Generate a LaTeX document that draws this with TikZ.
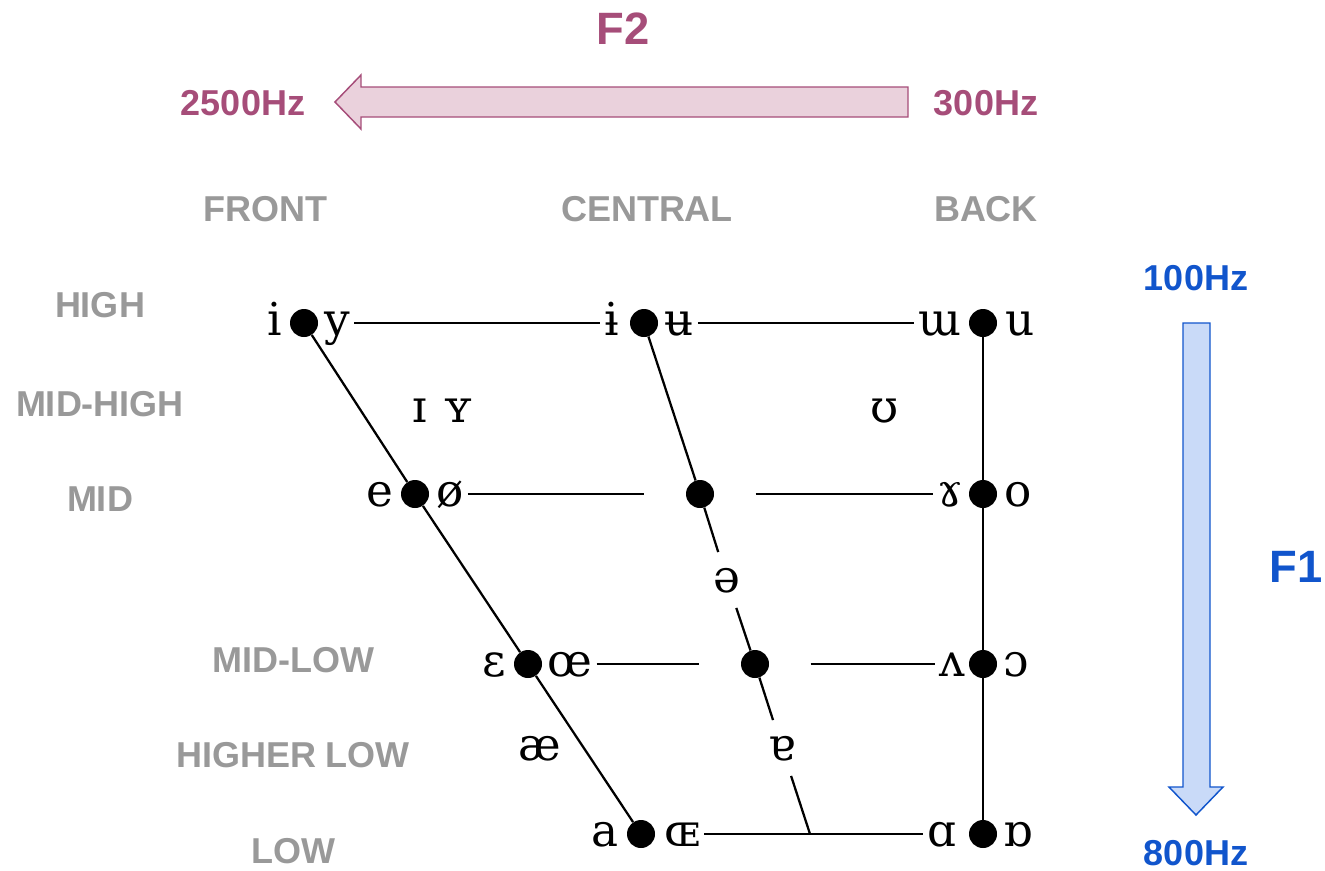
\documentclass[tikz,border=0pt]{standalone}
\usepackage{fontspec}
\setmainfont{Liberation Sans}
\newfontfamily\ipafont{DejaVu Serif}
\definecolor{labgray}{HTML}{999999}
\definecolor{ftwo}{HTML}{A64D79}
\definecolor{ftwofill}{HTML}{EAD1DC}
\definecolor{fone}{HTML}{1155CC}
\definecolor{fonefill}{HTML}{C9DAF8}
\tikzset{
  cat/.style={text=labgray, font=\fontsize{27}{30}\selectfont\bfseries},
  hz/.style={font=\fontsize{27}{30}\selectfont\bfseries},
  ipa/.style={font=\ipafont\fontsize{34}{36}\selectfont, text height=27pt, text depth=8.5pt, inner sep=3pt},
  vdot/.style={circle, fill=black, minimum size=21pt, inner sep=0pt},
  gapc/.style={circle, minimum size=83pt, inner sep=0pt},
  edge/.style={line width=1.7pt},
}
\begin{document}
\begin{tikzpicture}[x=0.75pt,y=-0.75pt]
\useasboundingbox (0,0) rectangle (1325,871);

% F2 axis
\node[hz, text=ftwo, font=\fontsize{34}{36}\selectfont\bfseries] (f2) at (623,29) {F2};
\node[hz, text=ftwo] (f2lo) at (243,103) {2500Hz};
\node[hz, text=ftwo] (f2hi) at (986,103) {300Hz};
\draw[ftwo, fill=ftwofill, line width=1.1pt]
  (908,87) -- (361,87) -- (361,75) -- (335,102) -- (361,129) -- (361,117) -- (908,117) -- cycle;

% F1 axis
\node[hz, text=fone] (f1lo) at (1196,278) {100Hz};
\node[hz, text=fone] (f1hi) at (1196,853) {800Hz};
\node[hz, text=fone, font=\fontsize{34}{36}\selectfont\bfseries] (f1) at (1296,567) {F1};
\draw[fone, fill=fonefill, line width=1.1pt]
  (1183,323) -- (1210,323) -- (1210,787) -- (1223,787) -- (1196,815) -- (1169,787) -- (1183,787) -- cycle;

% backness labels
\node[cat] (front) at (265,209) {FRONT};
\node[cat] (central) at (647,209) {CENTRAL};
\node[cat] (back) at (986,209) {BACK};

% height labels
\node[cat] (high) at (100,305) {HIGH};
\node[cat] (midhigh) at (100,404) {MID-HIGH};
\node[cat] (mid) at (100,499) {MID};
\node[cat] (midlow) at (293,660) {MID-LOW};
\node[cat] (higherlow) at (293,755) {HIGHER LOW};
\node[cat] (low) at (293,851) {LOW};

% vowel points
\node[vdot] (dHF) at (304,323) {};
\node[vdot] (dHC) at (644,323) {};
\node[vdot] (dHB) at (983,323) {};
\node[vdot] (dMF) at (415,494) {};
\node[vdot] (dMC) at (700,494) {};
\node[vdot] (dMB) at (983,494) {};
\node[vdot] (dLF) at (528,664) {};
\node[vdot] (dLC) at (755,664) {};
\node[vdot] (dLB) at (983,664) {};
\node[vdot] (dBF) at (641,834) {};
\node[vdot] (dBB) at (983,834) {};
\node[gapc] (gMC) at (700,494) {};
\node[gapc] (gLC) at (755,664) {};
\coordinate (cBC) at (810,834);

% vowel symbols
\node[ipa] (vi) at (275,323) {i};
\node[ipa] (vy) at (337,323) {y};
\node[ipa] (vibar) at (612,323) {ɨ};
\node[ipa] (vubar) at (679,323) {ʉ};
\node[ipa] (vturnm) at (940,323) {ɯ};
\node[ipa] (vu) at (1020,323) {u};
\node[ipa] (vsi) at (420,410) {ɪ};
\node[ipa] (vsy) at (458,410) {ʏ};
\node[ipa] (vups) at (885,410) {ʊ};
\node[ipa] (ve) at (380,494) {e};
\node[ipa] (voslash) at (450,494) {ø};
\node[ipa] (vramshorn) at (950,494) {ɤ};
\node[ipa] (vo) at (1018,494) {o};
\node[ipa] (vschwa) at (727,580) {ə};
\node[ipa] (veps) at (494,664) {ɛ};
\node[ipa] (voe) at (570,664) {œ};
\node[ipa] (vturnv) at (952,664) {ʌ};
\node[ipa] (vopeno) at (1016,664) {ɔ};
\node[ipa] (vae) at (540,748) {æ};
\node[ipa] (vturna) at (782,748) {ɐ};
\node[ipa] (va) at (605,834) {a};
\node[ipa] (vOE) at (682,834) {ɶ};
\node[ipa] (valpha) at (942,834) {ɑ};
\node[ipa] (vturnalpha) at (1018,834) {ɒ};

% chart edges
\draw[edge] (dHF) -- (dMF) -- (dLF) -- (dBF);
\draw[edge] (dHC) -- (dMC) -- (vschwa) -- (dLC) -- (vturna) -- (cBC);
\draw[edge] (dHB) -- (dBB);
\draw[edge] (vy) -- (vibar);
\draw[edge] (vubar) -- (vturnm);
\draw[edge] (voslash) -- (gMC);
\draw[edge] (gMC) -- (vramshorn);
\draw[edge] (voe) -- (gLC);
\draw[edge] (gLC) -- (vturnv);
\draw[edge] (vOE) -- (valpha);
\end{tikzpicture}
\end{document}
